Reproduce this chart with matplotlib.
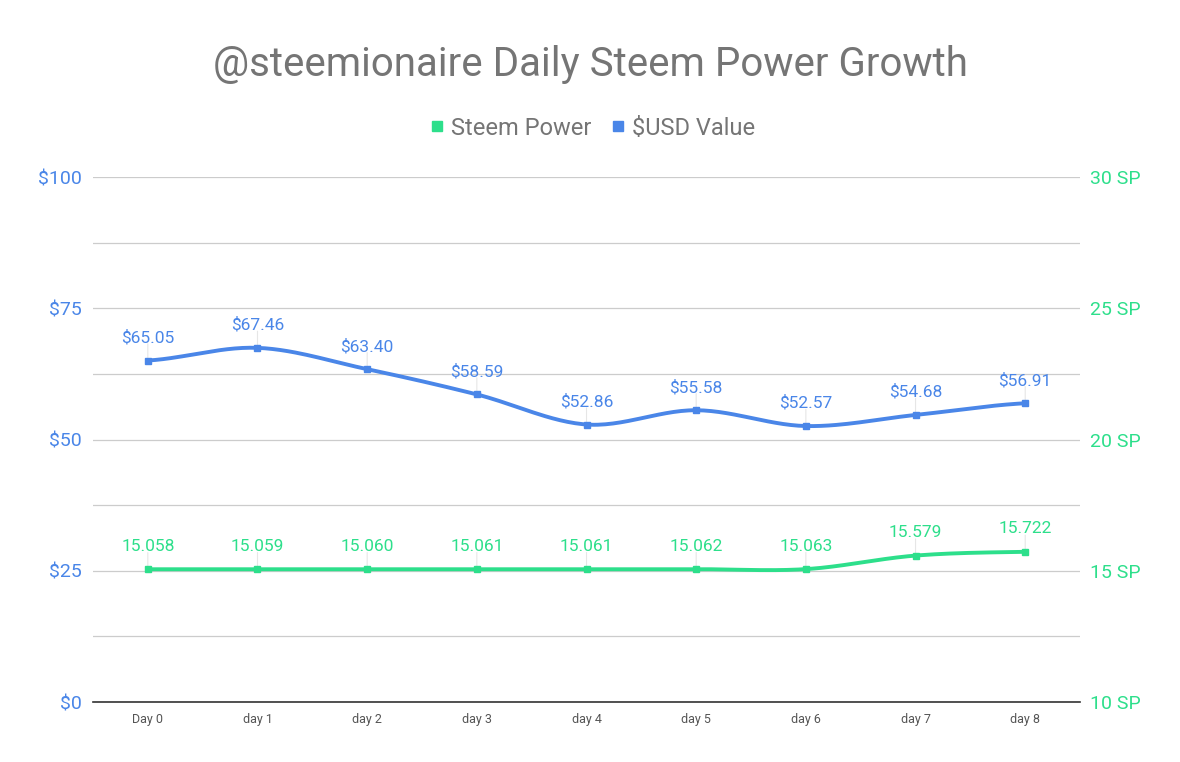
import numpy as np
import matplotlib
matplotlib.use('Agg')
import matplotlib.pyplot as plt
from matplotlib.lines import Line2D

plt.rcParams['font.family'] = ['Roboto', 'DejaVu Sans']

days = ['Day 0', 'day 1', 'day 2', 'day 3', 'day 4', 'day 5', 'day 6', 'day 7', 'day 8']
usd_value = [65.05, 67.46, 63.40, 58.59, 52.86, 55.58, 52.57, 54.68, 56.91]
steem_power = [15.058, 15.059, 15.060, 15.061, 15.061, 15.062, 15.063, 15.579, 15.722]

BLUE = '#4a86e8'
GREEN = '#2ddf8b'
GRAY = '#757575'
GRID = '#cccccc'


def smooth(xs, ys, steps=30):
    # catmull-rom through the points, like the sheets "smooth" line
    xs = np.asarray(xs, float)
    ys = np.asarray(ys, float)
    px = np.concatenate([[2 * xs[0] - xs[1]], xs, [2 * xs[-1] - xs[-2]]])
    py = np.concatenate([[ys[0]], ys, [ys[-1]]])
    out_x, out_y = [], []
    for i in range(1, len(px) - 2):
        t = np.linspace(0, 1, steps)
        for arr, out in ((px, out_x), (py, out_y)):
            p0, p1, p2, p3 = arr[i - 1], arr[i], arr[i + 1], arr[i + 2]
            out.extend(0.5 * ((2 * p1) + (-p0 + p2) * t
                              + (2 * p0 - 5 * p1 + 4 * p2 - p3) * t ** 2
                              + (-p0 + 3 * p1 - 3 * p2 + p3) * t ** 3))
    return out_x, out_y


fig = plt.figure(figsize=(11.8, 7.62), dpi=100)
ax = fig.add_axes([0.0788, 0.0787, 0.8365, 0.689])
ax2 = ax.twinx()

x = np.arange(len(days))

# left axis: $ value
ax.set_ylim(0, 100)
ax.set_xlim(-0.5, len(days) - 0.5)
ax.set_yticks([0, 25, 50, 75, 100])
ax.set_yticklabels(['$0', '$25', '$50', '$75', '$100'])
ax.set_yticks(np.arange(0, 101, 12.5), minor=True)
ax.grid(True, axis='y', which='both', color=GRID, lw=0.9)
ax.set_axisbelow(True)
ax.tick_params(axis='y', which='both', length=0, colors=BLUE, labelsize=14, pad=8)
ax.set_xticks(x)
ax.set_xticklabels(days)
ax.tick_params(axis='x', length=0, colors='#555555', labelsize=9, pad=8)
for s in ['top', 'right', 'left']:
    ax.spines[s].set_visible(False)
ax.spines['bottom'].set_color('#333333')
ax.spines['bottom'].set_linewidth(1.2)

# right axis: SP
ax2.set_ylim(10, 30)
ax2.set_yticks([10, 15, 20, 25, 30])
ax2.set_yticklabels(['10 SP', '15 SP', '20 SP', '25 SP', '30 SP'])
ax2.tick_params(axis='y', length=0, colors=GREEN, labelsize=14, pad=7)
for s in ax2.spines.values():
    s.set_visible(False)

# lines
sx, sy = smooth(x, usd_value)
ax.plot(sx, sy, color=BLUE, lw=2.8, solid_capstyle='round', zorder=3)
ax.plot(x, usd_value, 's', color=BLUE, ms=5, zorder=4)
sx, sy = smooth(x, steem_power)
ax2.plot(sx, sy, color=GREEN, lw=2.8, solid_capstyle='round', zorder=3)
ax2.plot(x, steem_power, 's', color=GREEN, ms=5, zorder=4)

# data labels with thin leader lines
for xi, v in zip(x, usd_value):
    ax.annotate('', xy=(xi, v), xytext=(0, 14), textcoords='offset points',
                arrowprops=dict(arrowstyle='-', color='#e6e6e6', lw=0.8))
    ax.annotate('$%.2f' % v, (xi, v), xytext=(0, 16.5), textcoords='offset points',
                ha='center', va='center', color=BLUE, fontsize=12.5)
for xi, v in zip(x, steem_power):
    ax2.annotate('', xy=(xi, v), xytext=(0, 14), textcoords='offset points',
                 arrowprops=dict(arrowstyle='-', color='#e6e6e6', lw=0.8))
    ax2.annotate('%.3f' % v, (xi, v), xytext=(0, 16.5), textcoords='offset points',
                 ha='center', va='center', color=GREEN, fontsize=12.5)

fig.text(0.5, 0.916, '@steemionaire Daily Steem Power Growth', ha='center', va='center',
         fontsize=29, color=GRAY)

handles = [Line2D([], [], marker='s', ls='', color=GREEN, ms=7),
           Line2D([], [], marker='s', ls='', color=BLUE, ms=7)]
fig.legend(handles, ['Steem Power', '$USD Value'], loc='center', bbox_to_anchor=(0.5, 0.832),
           ncol=2, frameon=False, fontsize=17, labelcolor=GRAY, handletextpad=0.1,
           columnspacing=0.6, handlelength=1.0)

fig.savefig('out.png', dpi=100)
